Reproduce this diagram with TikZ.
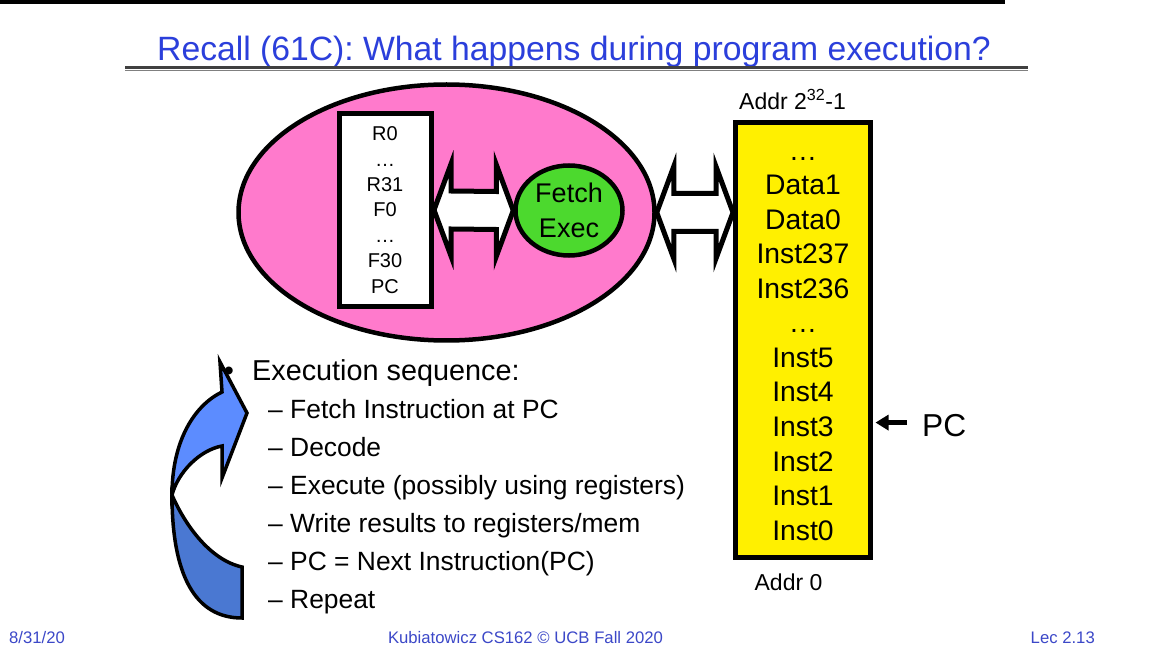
\documentclass[tikz,border=0pt]{standalone}
\usepackage{fontspec}
\setmainfont{Liberation Sans}
\usetikzlibrary{shapes.geometric,arrows.meta,calc}

\definecolor{titleblue}{RGB}{43,63,219}
\definecolor{footblue}{RGB}{60,72,200}
\definecolor{cpupink}{RGB}{255,122,204}
\definecolor{alugreen}{RGB}{76,217,46}
\definecolor{memyellow}{RGB}{255,240,0}
\definecolor{looplight}{RGB}{92,140,255}
\definecolor{loopdark}{RGB}{74,120,210}

\newcommand{\fsz}[1]{\fontsize{#1}{#1}\selectfont}

\tikzset{
  box/.style={draw, line width=5pt, inner sep=0pt},
  blob/.style={ellipse, draw, line width=4.5pt, inner sep=0pt},
  busarrow/.style={draw, fill=white, line width=5pt, line join=miter},
  lbl/.style={inner sep=0pt, anchor=base},
  item/.style={inner sep=0pt, anchor=base west, font=\fsz{26.4}},
  pcarrow/.style={line width=5pt, -{Triangle[length=13pt,width=15pt]}},
}

% fat double-headed bus from #1 to #2
\newcommand{\bus}[2]{%
  \path[busarrow] (#1) -- ($(#1)+(17,-46)$) -- ($(#1)+(17,-19)$)
    -- ($(#2)+(-17,-19)$) -- ($(#2)+(-17,-46)$) -- (#2)
    -- ($(#2)+(-17,46)$) -- ($(#2)+(-17,19)$)
    -- ($(#1)+(17,19)$) -- ($(#1)+(17,46)$) -- cycle;}

\begin{document}
\begin{tikzpicture}[x=1pt, y=-1pt]
    \useasboundingbox (0,0) rectangle (1152,652);
    \fill[white] (0,0) rectangle (1152,652);
    \fill[black] (0,0) rectangle (1005,4.5);

    % title
    \node[lbl, font=\fsz{33.7}, text=titleblue] (title) at (574,61) {Recall (61C): What happens during program execution?};
    \draw[line width=2.2pt, black!75] (125,67.5) -- (1028,67.5);
    \draw[line width=1.2pt, black!50] (125,70.5) -- (1028,70.5);

    % processor
    \node[blob, fill=cpupink, minimum width=416pt, minimum height=256pt] (cpu) at (446.5,212.5) {};
    \node[box, fill=white, minimum width=92pt, minimum height=193pt] (regs) at (385.5,210) {};
    \foreach \r [count=\i from 0] in {R0,…,R31,F0,…,F30,PC}
        \node[lbl, font=\fsz{20}] (r\i) at (385, 140.7+25.43*\i) {\r};
    \node[blob, fill=alugreen, minimum width=107pt, minimum height=90pt,
          align=center, font=\fontsize{27}{34.3}\selectfont] (fetch) at (569,210.5) {Fetch\\Exec};
    \bus{regs.east}{fetch.west}

    % memory
    \node[box, fill=memyellow, minimum width=135pt, minimum height=435pt] (mem) at (803,340) {};
    \foreach \m [count=\i from 0] in {…,Data1,Data0,Inst237,Inst236,…,Inst5,Inst4,Inst3,Inst2,Inst1,Inst0}
        \node[lbl, font=\fsz{28.3}] (m\i) at (803, 160.5+34.5*\i) {\m};
    \node[lbl, font=\fsz{23}] (hiaddr) at (792.5,110) {Addr 2\textsuperscript{32}-1};
    \node[lbl, font=\fsz{23}] (loaddr) at (788.5,590) {Addr 0};
    \coordinate (memport) at (mem.west |- cpu.east);
    \bus{cpu.east}{memport}

    % program counter
    \node[lbl, anchor=base west, font=\fsz{31.7}] (pc) at (922,436) {PC};
    \coordinate (pctail) at ([xshift=-15pt,yshift=2.5pt]pc.west);
    \draw[pcarrow] (pctail) -- ([xshift=2.5pt]mem.east |- pctail);

    % loop arrow
    \path[draw, fill=loopdark, line width=3.5pt, line join=miter]
        (242,567) -- (242,618) .. controls (195,618) and (172,575) .. (172,495)
        .. controls (185,525) and (210,560) .. (242,567) -- cycle;
    \path[draw, fill=looplight, line width=3.5pt, line join=miter]
        (172,495) .. controls (172,440) and (195,405) .. (222,392)
        -- (220,362) -- (247,413) -- (222,478) -- (222,446)
        .. controls (200,450) and (178,472) .. (172,495) -- cycle;

    % execution sequence
    \node[lbl, font=\fsz{28.8}] (dot) at (229,381) {•};
    \node[item, font=\fsz{28.8}] (head) at (252,381) {Execution sequence:};
    \foreach \s [count=\i] in {Fetch Instruction at PC, Decode, Execute (possibly using registers),
                               Write results to registers/mem, PC = Next Instruction(PC), Repeat}
        \node[item] (s\i) at (268, 380.3+38*\i) {– \s};

    % footer
    \node[lbl, anchor=base west, font=\fsz{16.7}, text=footblue] (date) at (9,643) {8/31/20};
    \node[lbl, font=\fsz{16.7}, text=footblue] (credit) at (525.5,643) {Kubiatowicz CS162 © UCB Fall 2020};
    \node[lbl, anchor=base east, font=\fsz{16.7}, text=footblue] (lec) at (1095,643) {Lec 2.13};
\end{tikzpicture}
\end{document}
